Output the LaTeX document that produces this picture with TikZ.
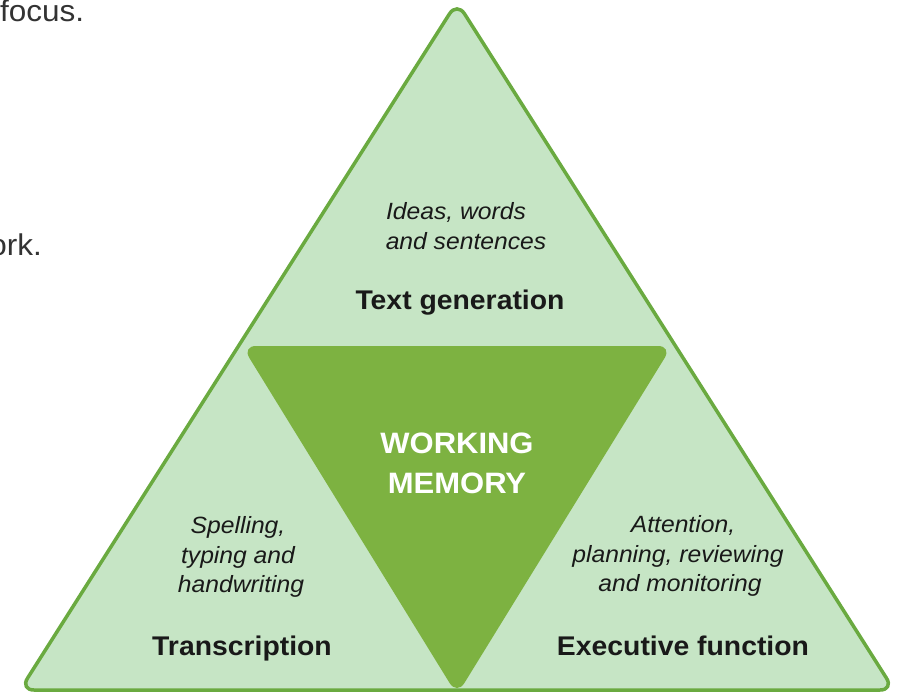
\documentclass[tikz,border=0pt]{standalone}
\usepackage{fontspec}
\setmainfont{Liberation Sans}[FakeStretch=1.05]
\definecolor{lightfill}{RGB}{198,229,197}
\definecolor{outline}{RGB}{106,170,64}
\definecolor{innergreen}{RGB}{125,178,65}
\definecolor{textdark}{RGB}{25,25,25}
\definecolor{fraggray}{RGB}{51,51,51}
\tikzset{
  tbase/.style={anchor=base, text=textdark, inner sep=0pt},
  itline/.style={tbase, font=\fontsize{23.5}{28}\selectfont\itshape},
  boldline/.style={tbase, font=\fontsize{27}{32}\selectfont\bfseries},
  wmline/.style={tbase, text=white, font=\fontsize{29.5}{34}\selectfont\bfseries},
  fragment/.style={inner sep=0pt, text=fraggray, font=\fontsize{30}{36}\selectfont},
  outertri/.style={draw=outline, fill=lightfill, line width=3.5pt, rounded corners=14pt, line join=round},
  innertri/.style={fill=innergreen, rounded corners=14pt}
}
\begin{document}
\begin{tikzpicture}[x=1pt,y=-1pt]
\useasboundingbox (0,0) rectangle (899,693);
\clip (0,0) rectangle (899,693);
\fill[white] (0,0) rectangle (899,693);
% cropped text fragments at the left
\node[fragment, anchor=base west] (focus) at (0,22) {focus.};
\node[fragment, anchor=base east] (ork) at (42,255) {ork.};
% triangles
\path[outertri] (457,2) -- (894,690) -- (20,690) -- cycle;
\path[innertri] (242,346) -- (672,346) -- (457,695) -- cycle;
% text generation
\node[itline] (tg1) at (456,219) {Ideas, words};
\node[itline] (tg2) at (466,249) {and sentences};
\node[boldline] (tg) at (460,309) {Text generation};
% working memory
\node[wmline] (wm1) at (457,453) {WORKING};
\node[wmline] (wm2) at (457,493) {MEMORY};
% transcription
\node[itline] (tr1) at (238,533) {Spelling,};
\node[itline] (tr2) at (238,563) {typing and};
\node[itline] (tr3) at (241,592) {handwriting};
\node[boldline] (tr) at (242,655) {Transcription};
% executive function
\node[itline] (ef1) at (683,532) {Attention,};
\node[itline] (ef2) at (678,562) {planning, reviewing};
\node[itline] (ef3) at (680,591) {and monitoring};
\node[boldline] (ef) at (683,655) {Executive function};
\end{tikzpicture}
\end{document}
